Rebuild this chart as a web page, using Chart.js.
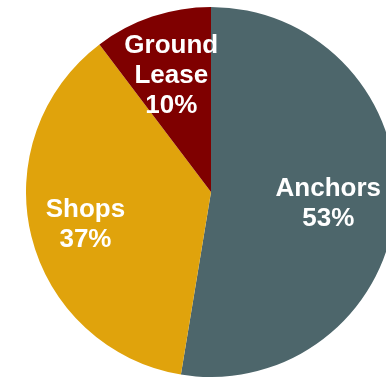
<!DOCTYPE html>
<html>
<head>
<meta charset="utf-8">
<script src="https://cdn.jsdelivr.net/npm/chart.js@4/dist/chart.umd.min.js"></script>
<style>
  html, body { margin: 0; padding: 0; background: #ffffff; }
  body { width: 386px; height: 379px; overflow: hidden; position: relative; }
  #wrap { position: absolute; left: 26px; top: 7px; width: 370px; height: 370px; }
</style>
</head>
<body>
<div id="wrap"><canvas id="c" width="370" height="370"></canvas></div>
<script>
const categories = ["Anchors", "Shops", "Ground Lease"];
const shares = [52.6, 37.1, 10.3];
const sliceColors = ["#4d666b", "#e0a30c", "#7f0000"];

const labelPlugin = {
  id: "sliceLabels",
  afterDatasetsDraw(chart, args, opts) {
    const ctx = chart.ctx;
    const meta = chart.getDatasetMeta(0);
    ctx.save();
    ctx.fillStyle = "#ffffff";
    ctx.font = "bold 26px 'Liberation Sans', Arial, sans-serif";
    ctx.textAlign = "center";
    ctx.textBaseline = "middle";
    meta.data.forEach((arc, i) => {
      const p = arc.getProps(["x", "y", "startAngle", "endAngle", "outerRadius"], true);
      const mid = (p.startAngle + p.endAngle) / 2;
      const r = p.outerRadius * opts.fractions[i];
      const cx = p.x + Math.cos(mid) * r;
      const cy = p.y + Math.sin(mid) * r + 2;
      const words = categories[i].split(" ");
      const lines = words.concat([Math.round(shares[i]) + "%"]);
      const lh = 30;
      const top = cy - (lines.length - 1) * lh / 2;
      lines.forEach((t, k) => ctx.fillText(t, cx, top + k * lh));
    });
    ctx.restore();
  }
};

new Chart(document.getElementById("c"), {
  type: "pie",
  data: {
    labels: categories,
    datasets: [{
      data: shares,
      backgroundColor: sliceColors,
      borderWidth: 0
    }]
  },
  options: {
    responsive: false,
    animation: false,
    layout: { padding: 0 },
    plugins: {
      legend: { display: false },
      tooltip: { enabled: false },
      sliceLabels: { fractions: [0.636, 0.699, 0.675] }
    }
  },
  plugins: [labelPlugin]
});
</script>
</body>
</html>
